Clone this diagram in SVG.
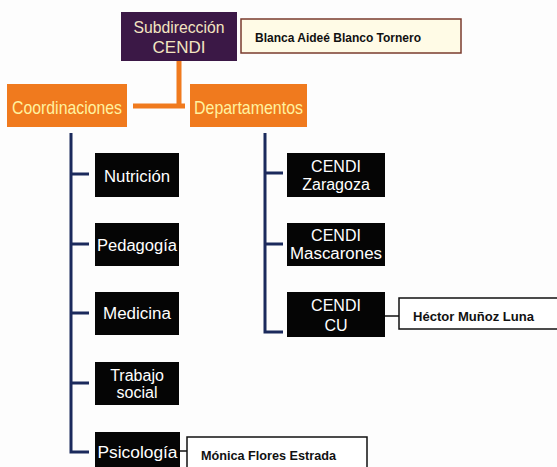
<svg xmlns="http://www.w3.org/2000/svg" width="557" height="467" viewBox="0 0 557 467">
<style>
.t{font-family:"Liberation Sans",Arial,sans-serif;text-anchor:middle}
.w{fill:#ffffff;font-size:16px}
.blk{fill:#050505}
.org{fill:#f07a1e}
.ot{fill:#fff2a0;font-size:19px}
.note{fill:#ffffff;stroke:#111;stroke-width:1.5}
.nt{font-family:"Liberation Sans",Arial,sans-serif;font-weight:bold;font-size:12px;fill:#111}
.blue{stroke:#1b2a5c;stroke-width:3;fill:none}
</style>
<rect width="557" height="467" fill="#fdfdfd"/>
<g id="connectors">
<path d="M179 61V106M133 106H185" stroke="#f07a1e" stroke-width="5" fill="none"/>
<path class="blue" d="M71 133V452H89M71 174H89M71 244H89M71 313H89M71 383H89"/>
<path class="blue" d="M265 133V332H283M265 173H283M265 244H283"/>
<path d="M180 451H187M385 316H399" stroke="#111" stroke-width="1.5"/>
</g>
<g id="subdireccion">
<rect x="121" y="12" width="116" height="49" fill="#3b1846"/>
<text class="t" x="179" y="33" font-size="17" fill="#f2e4c0" textLength="91" lengthAdjust="spacingAndGlyphs">Subdirección</text>
<text class="t" x="179" y="53" font-size="17" fill="#f2e4c0">CENDI</text>
</g>
<g id="blanca">
<rect x="241" y="19" width="220" height="34" fill="#fffbe6" stroke="#7a3b2e" stroke-width="1.5"/>
<text class="nt" x="255" y="42" textLength="166" lengthAdjust="spacingAndGlyphs">Blanca Aideé Blanco Tornero</text>
</g>
<g id="coordinaciones">
<rect class="org" x="7" y="84" width="120" height="43"/>
<text class="t ot" x="67" y="114" textLength="110" lengthAdjust="spacingAndGlyphs">Coordinaciones</text>
</g>
<g id="departamentos">
<rect class="org" x="190" y="84" width="117" height="43"/>
<text class="t ot" x="248.5" y="114" textLength="109" lengthAdjust="spacingAndGlyphs">Departamentos</text>
</g>
<g id="nutricion">
<rect class="blk" x="95" y="153" width="84" height="44"/>
<text class="t w" x="137" y="182" textLength="66" lengthAdjust="spacingAndGlyphs">Nutrición</text>
</g>
<g id="pedagogia">
<rect class="blk" x="95" y="223" width="84" height="43"/>
<text class="t w" x="137" y="251" textLength="80" lengthAdjust="spacingAndGlyphs">Pedagogía</text>
</g>
<g id="medicina">
<rect class="blk" x="95" y="292" width="84" height="43"/>
<text class="t w" x="137" y="319" textLength="68" lengthAdjust="spacingAndGlyphs">Medicina</text>
</g>
<g id="trabajo">
<rect class="blk" x="95" y="362" width="84" height="43"/>
<text class="t w" x="137" y="381">Trabajo</text>
<text class="t w" x="137" y="398">social</text>
</g>
<g id="psicologia">
<rect class="blk" x="95" y="432" width="85" height="40"/>
<text class="t w" x="137.5" y="458" textLength="80" lengthAdjust="spacingAndGlyphs">Psicología</text>
</g>
<g id="monica">
<rect class="note" x="187" y="437" width="180" height="40"/>
<text class="nt" x="201" y="460" textLength="135" lengthAdjust="spacingAndGlyphs">Mónica Flores Estrada</text>
</g>
<g id="zaragoza">
<rect class="blk" x="287" y="153" width="98" height="44"/>
<text class="t w" x="336" y="172">CENDI</text>
<text class="t w" x="336" y="190">Zaragoza</text>
</g>
<g id="mascarones">
<rect class="blk" x="287" y="223" width="98" height="43"/>
<text class="t w" x="336" y="241">CENDI</text>
<text class="t w" x="336" y="259" textLength="92" lengthAdjust="spacingAndGlyphs">Mascarones</text>
</g>
<g id="cu">
<rect class="blk" x="287" y="292" width="98" height="45"/>
<text class="t w" x="336" y="311">CENDI</text>
<text class="t w" x="336" y="331">CU</text>
</g>
<g id="hector">
<rect class="note" x="399" y="298" width="170" height="31"/>
<text class="nt" x="413" y="321" textLength="121" lengthAdjust="spacingAndGlyphs">Héctor Muñoz Luna</text>
</g>
</svg>
